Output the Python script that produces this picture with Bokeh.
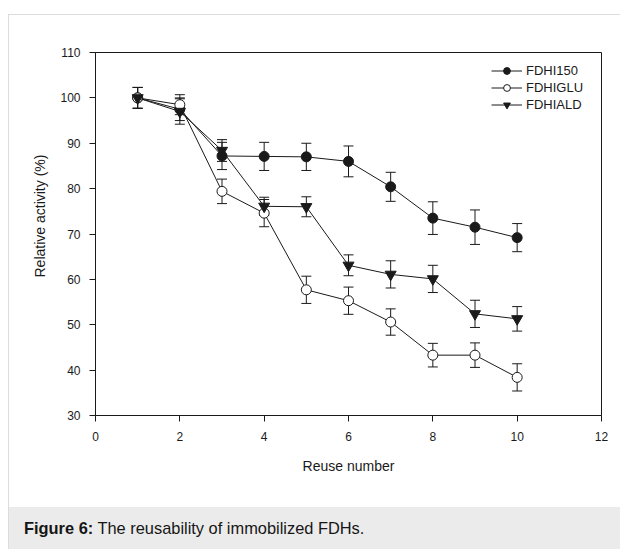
from bokeh.plotting import figure
from bokeh.layouts import column
from bokeh.models import (Range1d, FixedTicker, Whisker, ColumnDataSource, Legend,
                          LegendItem, TeeHead, Title, Div)
from bokeh.embed import file_html
from bokeh.resources import INLINE

# ---- data ----
reuse = [1, 2, 3, 4, 5, 6, 7, 8, 9, 10]
fdhi150 = [100, 97.5, 87.2, 87.1, 87.0, 86.0, 80.4, 73.5, 71.5, 69.2]
fdhi150_err = [2.3, 2.5, 3.0, 3.1, 3.0, 3.4, 3.2, 3.6, 3.8, 3.1]
fdhiglu = [100, 98.5, 79.4, 74.6, 57.7, 55.3, 50.6, 43.3, 43.3, 38.4]
fdhiglu_err = [2.3, 2.2, 2.7, 3.0, 3.0, 3.0, 2.9, 2.6, 2.7, 3.0]
fdhiald = [100, 97.0, 88.4, 76.1, 76.0, 63.1, 61.1, 60.1, 52.4, 51.3]
fdhiald_err = [2.3, 2.8, 2.4, 2.0, 2.2, 2.3, 3.0, 3.0, 3.0, 2.7]
series_names = ["FDHI150", "FDHIGLU", "FDHIALD"]
x_ticks = [0, 2, 4, 6, 8, 10, 12]
y_ticks = [30, 40, 50, 60, 70, 80, 90, 100, 110]
x_label = "Reuse number"
y_label = "Relative activity (%)"
caption_bold = "Figure 6:"
caption_text = "The reusability of immobilized FDHs."

FONT = "Liberation Sans"
INK = "#1a1a1a"

p = figure(width=611, height=492, output_backend="svg", toolbar_location=None,
           x_range=Range1d(0, 12), y_range=Range1d(30, 110), title=None,
           min_border_left=86, min_border_right=19, min_border_top=37,
           min_border_bottom=92, background_fill_color="white",
           border_fill_color="white")

p.xgrid.visible = False
p.ygrid.visible = False
p.outline_line_color = INK
p.outline_line_width = 1

for ax in (p.xaxis[0], p.yaxis[0]):
    ax.axis_line_color = INK
    ax.axis_line_width = 1
    ax.major_tick_line_color = INK
    ax.major_tick_out = 6
    ax.major_tick_in = 0
    ax.minor_tick_line_color = None
    ax.major_label_text_font = FONT
    ax.major_label_text_font_size = "12px"
    ax.major_label_text_color = INK
p.xaxis[0].ticker = FixedTicker(ticks=x_ticks)
p.yaxis[0].ticker = FixedTicker(ticks=y_ticks)
p.xaxis[0].major_label_standoff = 10
p.yaxis[0].major_label_standoff = 9

p.xaxis[0].axis_label = x_label
p.xaxis[0].axis_label_text_font = FONT
p.xaxis[0].axis_label_text_font_size = "14px"
p.xaxis[0].axis_label_text_font_style = "normal"
p.xaxis[0].axis_label_text_color = INK
p.xaxis[0].axis_label_standoff = 14

p.add_layout(Title(text=y_label, align="left", offset=138, standoff=15,
                   vertical_align="top",
                   text_font=FONT, text_font_size="14px",
                   text_font_style="normal", text_color=INK), "left")

# ---- series ----
vals = [fdhi150, fdhiglu, fdhiald]
errs = [fdhi150_err, fdhiglu_err, fdhiald_err]
markers = ["circle", "circle", "inverted_triangle"]
fills = [INK, "white", INK]
sizes = [10, 10, 11]

items = []
for name, v, e, m, f, s in zip(series_names, vals, errs, markers, fills, sizes):
    src = ColumnDataSource(dict(x=reuse, y=v,
                                upper=[a + b for a, b in zip(v, e)],
                                lower=[a - b for a, b in zip(v, e)]))
    w = Whisker(source=src, base="x", upper="upper", lower="lower",
                line_color=INK, line_width=1,
                upper_head=TeeHead(size=10, line_color=INK, line_width=1),
                lower_head=TeeHead(size=10, line_color=INK, line_width=1))
    p.add_layout(w)
    lr = p.line("x", "y", source=src, line_color=INK, line_width=1)
    sr = p.scatter("x", "y", source=src, marker=m, size=s, fill_color=f,
                   line_color=INK, line_width=1)
    items.append(LegendItem(label=name, renderers=[lr, sr]))

legend = Legend(items=items, location=(396, 302), padding=0, margin=0, spacing=0,
                glyph_width=31, glyph_height=17, label_height=17, label_standoff=4,
                label_text_font=FONT, label_text_font_size="13px",
                label_text_color=INK, border_line_color=None,
                background_fill_color="white", background_fill_alpha=1)
p.add_layout(legend)

cap = Div(text=('<div style="background:#ebebeb;height:42px;line-height:42px;'
                'width:611px;box-sizing:border-box;display:block;'
                'padding-left:15px;font-family:\'Liberation Sans\',Arial,sans-serif;'
                'font-size:16.4px;color:#161616;white-space:nowrap;margin:0;">'
                '<b>' + caption_bold + '</b> ' + caption_text + '</div>'),
          width=611, height=42, margin=0)

root = column(p, cap, spacing=0, margin=(14, 0, 0, 8),
              styles={"border-left": "1px solid #dcdcdc",
                      "border-top": "1px solid #dcdcdc"})

open("out.html", "w").write(file_html(root, INLINE))
